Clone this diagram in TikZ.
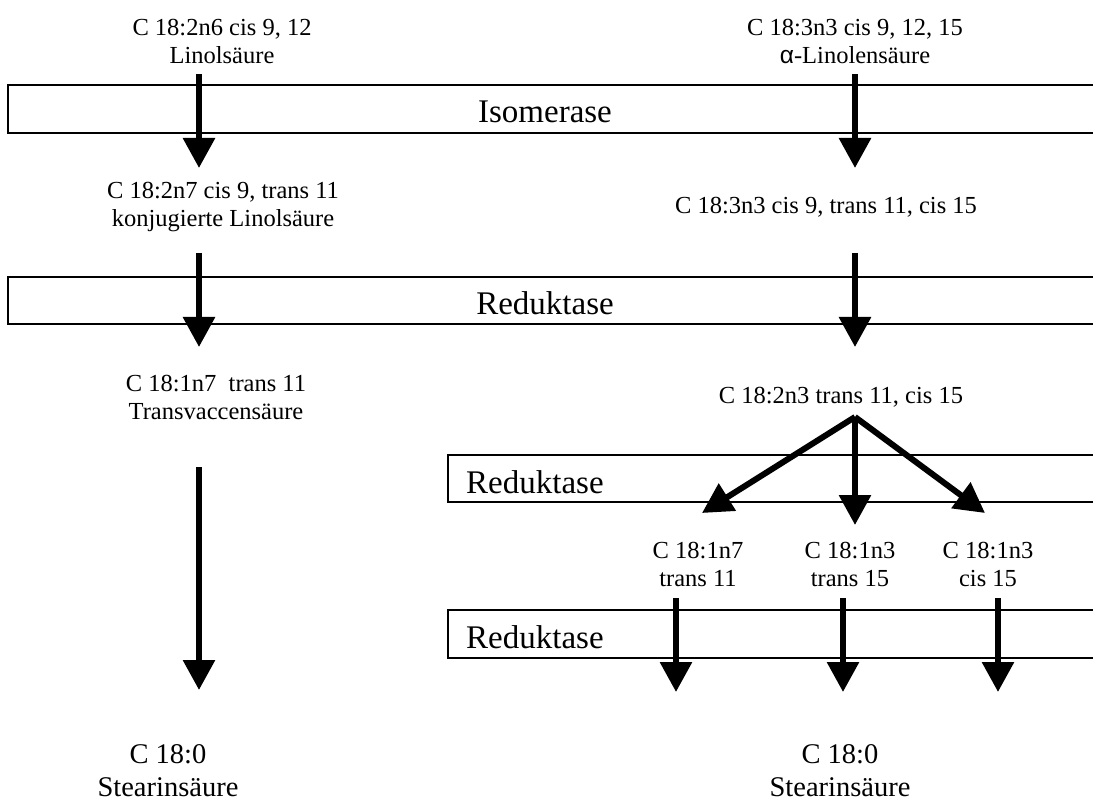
\documentclass[tikz,border=0pt]{standalone}
\usepackage{fontspec}
\setmainfont{Liberation Serif}
\newfontfamily\alphafont{Liberation Sans}
\usetikzlibrary{arrows.meta}
\tikzset{
  acid/.style={align=center,inner sep=0pt,font=\fontsize{24.5}{28}\selectfont},
  endacid/.style={align=center,inner sep=0pt,font=\fontsize{28.5}{33}\selectfont},
  enzym/.style={draw,line width=1.4pt},
  enzymtext/.style={inner sep=0pt,font=\fontsize{33}{38}\selectfont},
  flow/.style={line width=6pt,-{Triangle[width=31pt,length=30pt]}}
}
\begin{document}
\begin{tikzpicture}[x=1pt,y=-1pt]
	\useasboundingbox (0,0) rectangle (1093,802);
	% enzyme boxes
	\draw[enzym] (8,85) rectangle (1100,133);
	\node[enzymtext,anchor=base] (iso) at (545,123) {Isomerase};
	\draw[enzym] (8,277) rectangle (1100,324);
	\node[enzymtext,anchor=base] (red1) at (545,315) {Reduktase};
	\draw[enzym] (448,455) rectangle (1100,502);
	\node[enzymtext,anchor=base west] (red2) at (466,493) {Reduktase};
	\draw[enzym] (448,610) rectangle (1100,658);
	\node[enzymtext,anchor=base west] (red3) at (466,648) {Reduktase};
	% fatty acids
	\node[acid] (la) at (222,41) {C 18:2n6 cis 9, 12\\Linols\"aure};
	\node[acid] (ala) at (855,41) {C 18:3n3 cis 9, 12, 15\\{\alphafont α}-Linolens\"aure};
	\node[acid] (cla) at (223,207) {C 18:2n7 cis 9, trans 11\\konjugierte Linols\"aure};
	\node[acid] (ct) at (826,207) {C 18:3n3 cis 9, trans 11, cis 15};
	\node[acid] (tva) at (216,397) {C 18:1n7~~trans 11\\Transvaccens\"aure};
	\node[acid] (tc) at (841,397) {C 18:2n3 trans 11, cis 15};
	\node[acid] (m1) at (698,564) {C 18:1n7\\trans 11};
	\node[acid] (m2) at (850,564) {C 18:1n3\\trans 15};
	\node[acid] (m3) at (988,564) {C 18:1n3\\cis 15};
	\node[endacid] (sa1) at (168,771) {C 18:0\\Stearins\"aure};
	\node[endacid] (sa2) at (840,771) {C 18:0\\Stearins\"aure};
	% arrows
	\coordinate (l1) at (199,74); \coordinate (l1e) at (199,168);
	\coordinate (r1) at (855,74); \coordinate (r1e) at (855,168);
	\coordinate (l2) at (199,253); \coordinate (l2e) at (199,347);
	\coordinate (r2) at (855,253); \coordinate (r2e) at (855,347);
	\coordinate (l3) at (199,467); \coordinate (l3e) at (199,690);
	\draw[flow] (l1)--(l1e);
	\draw[flow] (r1)--(r1e);
	\draw[flow] (l2)--(l2e);
	\draw[flow] (r2)--(r2e);
	\draw[flow] (l3)--(l3e);
	\coordinate (fork) at (855,417);
	\coordinate (f1) at (702,513); \coordinate (f2) at (855,525); \coordinate (f3) at (985,513);
	\foreach \i in {1,2,3}
	    \draw[flow,line join=miter] (fork)--(f\i);
	\foreach \x [count=\i] in {676,843,998}{
	    \coordinate (b\i) at (\x,598);
	    \coordinate (b\i e) at (\x,692);
	    \draw[flow] (b\i)--(b\i e);
	}
\end{tikzpicture}
\end{document}
